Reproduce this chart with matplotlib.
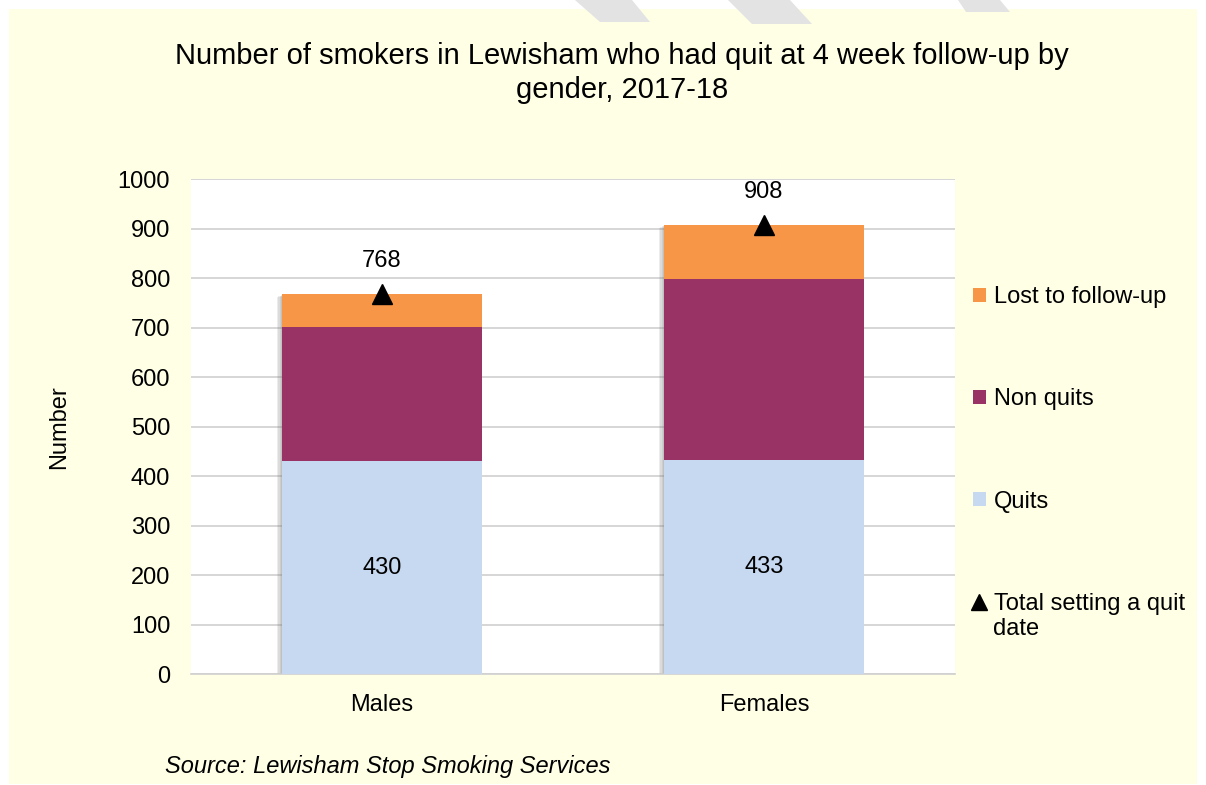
import matplotlib
matplotlib.use("Agg")
import matplotlib.pyplot as plt
import matplotlib.patheffects as pe
from matplotlib.patches import Patch, Rectangle, Polygon
from matplotlib.lines import Line2D

# data
genders = ['Males', 'Females']
quits = [430, 433]
non_quits = [272, 365]
lost = [66, 110]
totals = [768, 908]

c_quits = '#C6D9F1'
c_non = '#993366'
c_lost = '#F79646'
bg = '#FFFFE6'
fs = 17

plt.rcParams['font.family'] = ['Liberation Sans', 'DejaVu Sans']

fig = plt.figure(figsize=(12.06, 7.85), dpi=100, facecolor='white')
# pale yellow chart area
fig.patches.append(Rectangle((9 / 1206, 1 / 785), 1188 / 1206, 775 / 785,
                             transform=fig.transFigure, facecolor=bg,
                             edgecolor='none', zorder=-2))
# faint grey watermark strokes along the top edge
for pts in [[(575, 0), (632, 0), (650, 22), (600, 22)],
            [(728, 0), (790, 0), (812, 24), (752, 24)],
            [(958, 0), (1000, 0), (1010, 12), (966, 12)]]:
    fig.patches.append(Polygon([(x / 1206, 1 - y / 785) for x, y in pts],
                               closed=True, transform=fig.transFigure,
                               facecolor='#E3E3E3', edgecolor='none', zorder=-1))

ax = fig.add_axes([191 / 1206, 0.141, 764 / 1206, 0.6306])
ax.set_zorder(5)
ax.set_facecolor('white')

x = list(range(len(genders)))
w = 0.522

# soft shadow behind each full column (a few faint layers)
shadow = [pe.SimplePatchShadow(offset=(-dx, -dx * 0.5), shadow_rgbFace='#707070', alpha=0.13)
          for dx in (1, 2, 3, 4)]
ax.bar(x, totals, w, color='none', zorder=2, path_effects=shadow)
ax.bar(x, quits, w, color=c_quits, zorder=3)
ax.bar(x, non_quits, w, bottom=quits, color=c_non, zorder=3)
bottoms = [q + n for q, n in zip(quits, non_quits)]
ax.bar(x, lost, w, bottom=bottoms, color=c_lost, zorder=3)
ax.plot(x, totals, linestyle='none', marker='^', markersize=14, color='black', zorder=4)

for i in x:
    ax.text(i, quits[i] / 2, str(quits[i]), ha='center', va='center', fontsize=fs, zorder=5)
    ax.annotate(str(totals[i]), (i, totals[i]), xytext=(0, 16), textcoords='offset points',
                ha='center', va='bottom', fontsize=fs, zorder=5)

ax.set_ylim(0, 1000)
ax.set_xlim(-0.5, 1.5)
ax.set_yticks(range(0, 1001, 100))
ax.set_xticks(x)
ax.set_xticklabels(genders)
ax.tick_params(length=0, labelsize=fs)
ax.tick_params(axis='y', pad=15)
ax.tick_params(axis='x', pad=14)
ax.yaxis.grid(True, color='#D0D0D0', linewidth=1.2)
ax.set_axisbelow(True)
for s in ['top', 'right', 'left']:
    ax.spines[s].set_visible(False)
ax.spines['bottom'].set_color('#D0D0D0')
ax.spines['bottom'].set_linewidth(1.2)

ax.set_ylabel('Number', fontsize=fs, labelpad=34)

handles = [Patch(facecolor=c_lost), Patch(facecolor=c_non), Patch(facecolor=c_quits),
           Line2D([], [], linestyle='none', marker='^', markersize=12, color='black')]
labels = ['Lost to follow-up', 'Non quits', 'Quits', 'Total setting a quit']
leg = fig.legend(handles, labels, loc='upper left', bbox_to_anchor=(973 / 1206, 1 - 286 / 785),
                 frameon=False, fontsize=fs, labelspacing=3.4, handlelength=0.55,
                 handleheight=0.55, handletextpad=0.35, borderpad=0, borderaxespad=0)
fig.text(993 / 1206, 1 - 629 / 785, 'date', ha='left', va='center', fontsize=fs)

fig.text(0.516, 1 - 73 / 785, 'Number of smokers in Lewisham who had quit at 4 week follow-up by\ngender, 2017-18',
         ha='center', va='center', fontsize=21, linespacing=1.25)
fig.text(165 / 1206, 1 - 766 / 785, 'Source: Lewisham Stop Smoking Services',
         ha='left', va='center', fontsize=fs, style='italic')

fig.savefig('out.png', dpi=100, facecolor=fig.get_facecolor())
